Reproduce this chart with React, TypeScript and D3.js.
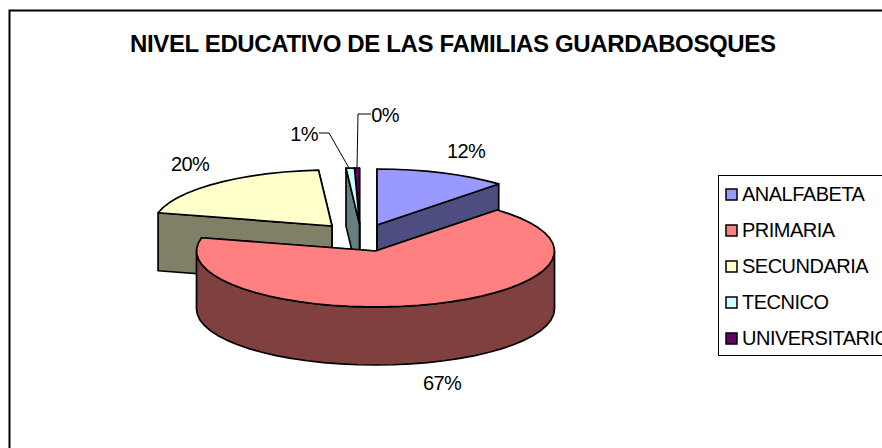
import React from "react";
import * as d3 from "d3";

const categories = ["ANALFABETA", "PRIMARIA", "SECUNDARIA", "TECNICO", "UNIVERSITARIO"];
const values = [11.9, 66.9, 20.0, 0.75, 0.45];
const topColors = ["#9999FF", "#FF8080", "#FFFFCC", "#CCFFFF", "#660066"];
const wallColors = ["#4D4D80", "#804040", "#808066", "#668080", "#330033"];
const drawOrder = [0, 4, 3, 2, 1];

const centers: [number, number][] = [[377, 225], [375.5, 251], [332, 226], [359.5, 224], [359.5, 224]];
const labelPos: [number, number][] = [[466, 158], [442, 390], [190, 171], [304, 141], [385, 122]];
const RX = 179, RY = 56, DEPTH = 58;

const angle = d3.scaleLinear().domain([0, d3.sum(values)]).range([0, 2 * Math.PI]);
const cum = d3.cumsum(values);
const pt = (c: [number, number], a: number, dy = 0): [number, number] => [
  c[0] + RX * Math.sin(a),
  c[1] - RY * Math.cos(a) + dy,
];
const line = d3.line();

function sample(a0: number, a1: number) {
  const n = Math.max(2, Math.ceil((a1 - a0) / 0.1));
  return d3.range(n + 1).map((i) => a0 + ((a1 - a0) * i) / n);
}

function Slice({ i }: { i: number }) {
  const c = centers[i];
  const a0 = angle(i === 0 ? 0 : cum[i - 1]);
  const a1 = angle(cum[i]);
  const stroke = { stroke: "#000", strokeWidth: 1.7, strokeLinejoin: "round" as const };
  const top = line([c, ...sample(a0, a1).map((a) => pt(c, a))]) + "Z";
  const radial = (a: number) =>
    line([c, pt(c, a), pt(c, a, DEPTH), [c[0], c[1] + DEPTH]]) + "Z";
  const w0 = Math.max(a0, Math.PI / 2);
  const w1 = Math.min(a1, (3 * Math.PI) / 2);
  let outer: string | null = null;
  if (w1 > w0) {
    const s = sample(w0, w1);
    outer =
      line([...s.map((a) => pt(c, a)), ...s.slice().reverse().map((a) => pt(c, a, DEPTH))]) + "Z";
  }
  return (
    <g>
      <path d={radial(a1)} fill={wallColors[i]} {...stroke} />
      <path d={radial(a0)} fill={wallColors[i]} {...stroke} />
      {outer && <path d={outer} fill={wallColors[i]} {...stroke} />}
      <path d={top} fill={topColors[i]} {...stroke} />
    </g>
  );
}

export default function App() {
  const font = "'Liberation Sans', Arial, sans-serif";
  const legendY = d3.scalePoint<number>().domain(d3.range(5)).range([194, 338]);
  return (
    <svg
      width={882}
      height={448}
      style={{ position: "fixed", left: 0, top: 0, background: "#fff", display: "block" }}
      fontFamily={font}
    >
      <path d="M9.5 448V10.5H900" fill="none" stroke="#000" strokeWidth={2} />
      <text x={453} y={52} textAnchor="middle" fontSize={24} fontWeight="bold" textLength={646} lengthAdjust="spacing">
        NIVEL EDUCATIVO DE LAS FAMILIAS GUARDABOSQUES
      </text>
      {drawOrder.map((i) => (
        <Slice key={i} i={i} />
      ))}
      <path d={line([[319, 133], [329, 133], [349, 168]]) as string} fill="none" stroke="#000" />
      <path d={line([[371, 114], [358, 114], [357, 168]]) as string} fill="none" stroke="#000" />
      {values.map((v, i) => (
        <text key={i} x={labelPos[i][0]} y={labelPos[i][1]} textAnchor="middle" fontSize={20} letterSpacing={-0.6}>
          {Math.round(v)}%
        </text>
      ))}
      <rect x={718.5} y={175.5} width={180} height={180} fill="#fff" stroke="#000" />
      {categories.map((c, i) => (
        <g key={c}>
          <rect x={726} y={legendY(i)! - 5} width={11} height={11} fill={topColors[i]} stroke="#000" strokeWidth={1.5} />
          <text x={742} y={legendY(i)! + 7} fontSize={20} letterSpacing={-0.5}>
            {c}
          </text>
        </g>
      ))}
    </svg>
  );
}
